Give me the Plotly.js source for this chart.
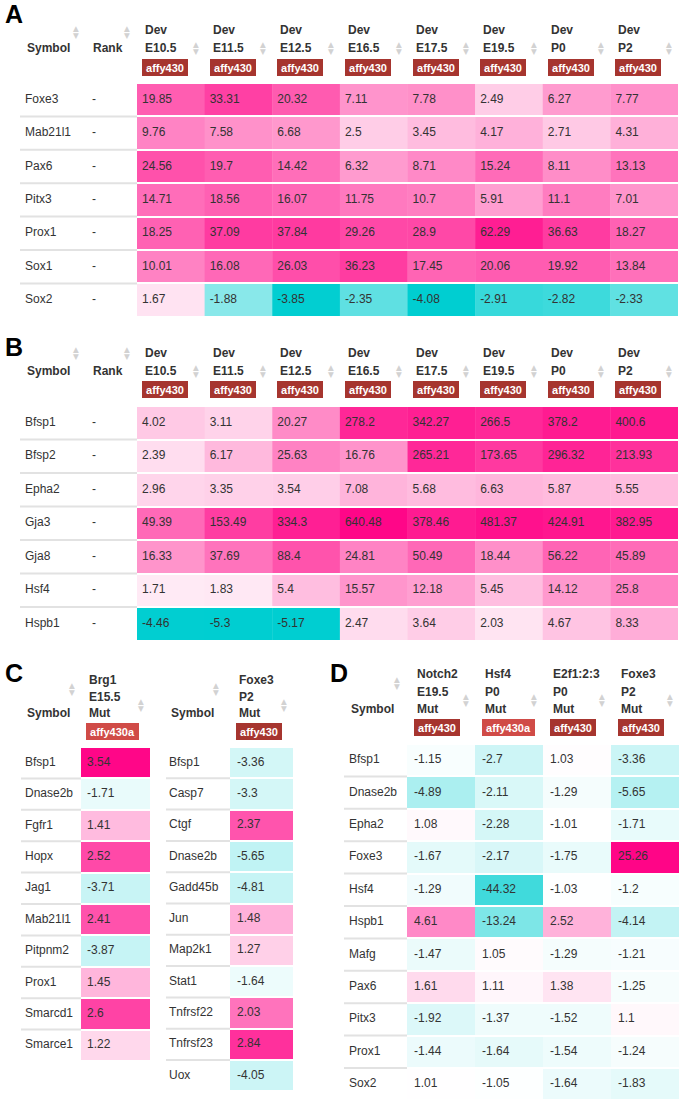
<!DOCTYPE html>
<html><head><meta charset="utf-8">
<script src="https://cdn.plot.ly/plotly-3.0.1.min.js"></script>
<style>html,body{margin:0;padding:0;background:#fff}#chart{width:679px;height:1101px}</style>
</head><body><div id="chart"></div>
<script>
// ---------------- data ----------------
const devStages = ['E10.5','E11.5','E12.5','E16.5','E17.5','E19.5','P0','P2'];
const devGroup = 'Dev';
const devPlatform = 'affy430';

// Panel A
const aGenes = ['Foxe3','Mab21l1','Pax6','Pitx3','Prox1','Sox1','Sox2'];
const aFoxe3   = [19.85, 33.31, 20.32, 7.11, 7.78, 2.49, 6.27, 7.77];
const aMab21l1 = [9.76, 7.58, 6.68, 2.5, 3.45, 4.17, 2.71, 4.31];
const aPax6    = [24.56, 19.7, 14.42, 6.32, 8.71, 15.24, 8.11, 13.13];
const aPitx3   = [14.71, 18.56, 16.07, 11.75, 10.7, 5.91, 11.1, 7.01];
const aProx1   = [18.25, 37.09, 37.84, 29.26, 28.9, 62.29, 36.63, 18.27];
const aSox1    = [10.01, 16.08, 26.03, 36.23, 17.45, 20.06, 19.92, 13.84];
const aSox2    = [1.67, -1.88, -3.85, -2.35, -4.08, -2.91, -2.82, -2.33];

// Panel B
const bGenes = ['Bfsp1','Bfsp2','Epha2','Gja3','Gja8','Hsf4','Hspb1'];
const bBfsp1 = [4.02, 3.11, 20.27, 278.2, 342.27, 266.5, 378.2, 400.6];
const bBfsp2 = [2.39, 6.17, 25.63, 16.76, 265.21, 173.65, 296.32, 213.93];
const bEpha2 = [2.96, 3.35, 3.54, 7.08, 5.68, 6.63, 5.87, 5.55];
const bGja3  = [49.39, 153.49, 334.3, 640.48, 378.46, 481.37, 424.91, 382.95];
const bGja8  = [16.33, 37.69, 88.4, 24.81, 50.49, 18.44, 56.22, 45.89];
const bHsf4  = [1.71, 1.83, 5.4, 15.57, 12.18, 5.45, 14.12, 25.8];
const bHspb1 = [-4.46, -5.3, -5.17, 2.47, 3.64, 2.03, 4.67, 8.33];

// Panel C
const c1Genes  = ['Bfsp1','Dnase2b','Fgfr1','Hopx','Jag1','Mab21l1','Pitpnm2','Prox1','Smarcd1','Smarce1'];
const c1Brg1   = [3.54, -1.71, 1.41, 2.52, -3.71, 2.41, -3.87, 1.45, 2.6, 1.22];
const c1Header = ['Brg1','E15.5','Mut'];
const c1Platform = 'affy430a';
const c2Genes  = ['Bfsp1','Casp7','Ctgf','Dnase2b','Gadd45b','Jun','Map2k1','Stat1','Tnfrsf22','Tnfrsf23','Uox'];
const c2Foxe3  = [-3.36, -3.3, 2.37, -5.65, -4.81, 1.48, 1.27, -1.64, 2.03, 2.84, -4.05];
const c2Header = ['Foxe3','P2','Mut'];
const c2Platform = 'affy430';

// Panel D
const dGenes  = ['Bfsp1','Dnase2b','Epha2','Foxe3','Hsf4','Hspb1','Mafg','Pax6','Pitx3','Prox1','Sox2'];
const dNotch2 = [-1.15, -4.89, 1.08, -1.67, -1.29, 4.61, -1.47, 1.61, -1.92, -1.44, 1.01];
const dHsf4   = [-2.7, -2.11, -2.28, -2.17, -44.32, -13.24, 1.05, 1.11, -1.37, -1.64, -1.05];
const dE2f1   = [1.03, -1.29, -1.01, -1.75, -1.03, 2.52, -1.29, 1.38, -1.52, -1.54, -1.64];
const dFoxe3  = [-3.36, -5.65, -1.71, 25.26, -1.2, -4.14, -1.21, -1.25, 1.1, -1.24, -1.83];
const dHeaders = [['Notch2','E19.5','Mut'],['Hsf4','P0','Mut'],['E2f1:2:3','P0','Mut'],['Foxe3','P2','Mut']];
const dPlatforms = ['affy430','affy430a','affy430','affy430'];

// ---------------- styling ----------------
const W = 679, H = 1101;
const FONT = 'Liberation Sans, Arial, Helvetica, sans-serif';
const TXT = '#333333';
const CYAN = '#00CED1', PINK = 'rgb(255,5,135)';
const BADGE = {'affy430':'#A6352F','affy430a':'#D04B47'};
const px = v => v / W, py = v => 1 - v / H;
const slog = v => Math.sign(v) * Math.log(Math.abs(v));
const scale = (lo, hi) => [[0, CYAN], [-lo / (hi - lo), '#ffffff'], [1, PINK]];

const data = [], shapes = [], annotations = [];
const layout = {
  width: W, height: H, margin: {l:0, r:0, t:0, b:0},
  paper_bgcolor: '#ffffff', plot_bgcolor: 'rgba(0,0,0,0)',
  showlegend: false, hovermode: false,
  font: {family: FONT, size: 12, color: TXT},
  shapes, annotations
};
let xn = 0, yn = 0;
function addAxis(kind, domain, range) {
  const n = kind === 'x' ? ++xn : ++yn;
  const suf = n === 1 ? '' : String(n);
  layout[kind + 'axis' + suf] = {domain, range, visible: false, fixedrange: true,
    showgrid: false, zeroline: false};
  return kind + suf;
}
const xg = addAxis('x', [0, 1], [0, W]);   // page-wide helper axis in pixels

function sortIcon(xref, x, xshift, yc) {
  [['▲', -3.3], ['▼', 3.3]].forEach(([t, d]) => annotations.push({
    xref, x, xshift, xanchor: 'center', yref: 'paper', y: py(yc + d), yanchor: 'middle',
    text: t, showarrow: false, font: {size: 7.5, color: '#d2d2d2', family: 'DejaVu Sans'}
  }));
}
function headText(xref, x, xshift, yc, text, bold) {
  annotations.push({xref, x, xshift, xanchor: 'left', yref: 'paper', y: py(yc), yanchor: 'middle',
    text: bold ? '<b>' + text + '</b>' : text, showarrow: false,
    font: {size: 12, color: TXT, family: FONT}});
}

function table(s) {
  const n = s.genes.length, m = s.cols.length;
  const yBot = s.top + n * s.rowH;
  const colPx = (s.cellX[1] - s.cellX[0]) / m;
  const yId = addAxis('y', [Math.max(0, py(yBot)), py(s.top)], [n - 0.5, -0.5]);
  const xc = addAxis('x', [px(s.cellX[0]), px(s.cellX[1])], [-0.5, m - 0.5]);
  s.cols.forEach((c, j) => {
    data.push({type: 'heatmap', xaxis: xc, yaxis: yId,
      z: c.values.map(v => [slog(v)]), x0: j, dx: 1, y0: 0, dy: 1,
      zmin: c.range[0], zmax: c.range[1], colorscale: scale(c.range[0], c.range[1]),
      showscale: false, ygap: 2, hoverinfo: 'skip'});
    data.push({type: 'scatter', mode: 'text', xaxis: xc, yaxis: yId,
      x: c.values.map(() => j - 0.5 + s.valShift / colPx), y: c.values.map((_, i) => i),
      text: c.values.map(v => String(v)), textposition: 'middle right',
      textfont: {size: 12, color: TXT, family: FONT}, cliponaxis: false, hoverinfo: 'skip'});
    c.lines.forEach((t, k) => headText(xc, j - 0.5, s.txtShift, s.headY[k], t, true));
    annotations.push({xref: xc, x: j - 0.5, xshift: s.txtShift - 1, xanchor: 'left',
      yref: 'paper', y: py(s.badgeY), yanchor: 'middle',
      text: '<b>' + c.badge + '</b>', showarrow: false, width: c.badge.length > 7 ? 49 : 42, height: 13,
      bgcolor: BADGE[c.badge], bordercolor: BADGE[c.badge], borderwidth: 1, borderpad: 1,
      font: {size: 11, color: '#ffffff', family: FONT}});
    sortIcon(xc, j + 0.5, -9, s.colIconY);
  });
  // row labels
  data.push({type: 'scatter', mode: 'text', xaxis: xg, yaxis: yId,
    x: s.genes.map(() => s.labelX), y: s.genes.map((_, i) => i), text: s.genes,
    textposition: 'middle right', textfont: {size: 12, color: TXT, family: FONT},
    cliponaxis: false, hoverinfo: 'skip'});
  headText(xg, s.labelX, 0, s.symY, 'Symbol', true);
  sortIcon(xg, s.symIcon[0], 0, s.symIcon[1]);
  if (s.rankX) {
    data.push({type: 'scatter', mode: 'text', xaxis: xg, yaxis: yId,
      x: s.genes.map(() => s.rankX + 1), y: s.genes.map((_, i) => i), text: s.genes.map(() => '-'),
      textposition: 'middle right', textfont: {size: 12, color: TXT, family: FONT},
      cliponaxis: false, hoverinfo: 'skip'});
    headText(xg, s.rankX, 0, s.symY, 'Rank', true);
    sortIcon(xg, s.rankIcon[0], 0, s.rankIcon[1]);
  }
  for (let i = 0; i < n - 1; i++) {
    shapes.push({type: 'line', xref: xg, yref: yId, x0: s.sepX0, x1: s.cellX[0],
      y0: i + 0.5, y1: i + 0.5, line: {color: '#e2e2e2', width: 2}});
  }
}
function letter(t, x, y) {
  annotations.push({xref: xg, x, xanchor: 'left', yref: 'paper', y: py(y), yanchor: 'middle',
    text: '<b>' + t + '</b>', showarrow: false, font: {size: 25, color: '#000', family: FONT}});
}

// ---------------- build panels ----------------
const transpose = rows => rows[0].map((_, j) => rows.map(r => r[j]));
const aCols = transpose([aFoxe3, aMab21l1, aPax6, aPitx3, aProx1, aSox1, aSox2]);
const bCols = transpose([bBfsp1, bBfsp2, bEpha2, bGja3, bGja8, bHsf4, bHspb1]);

table({genes: aGenes, top: 83, rowH: 33.4, cellX: [137, 678], labelX: 25, rankX: 91,
  sepX0: 20, txtShift: 6, valShift: 5, headY: [30, 48], badgeY: 67, symY: 48, colIconY: 48,
  symIcon: [76, 32], rankIcon: [127, 32],
  cols: aCols.map((v, j) => ({values: v, lines: [devGroup, devStages[j]], badge: devPlatform, range: [-1.36, 4.6]}))});
table({genes: bGenes, top: 406, rowH: 33.5, cellX: [137, 678], labelX: 25, rankX: 91,
  sepX0: 20, txtShift: 6, valShift: 5, headY: [353, 371], badgeY: 389, symY: 371, colIconY: 371,
  symIcon: [76, 353], rankIcon: [127, 353],
  cols: bCols.map((v, j) => ({values: v, lines: [devGroup, devStages[j]], badge: devPlatform, range: [-1.5, 6.5]}))});
table({genes: c1Genes, top: 747, rowH: 31.4, cellX: [81, 150], labelX: 25,
  sepX0: 21, txtShift: 6, valShift: 6, headY: [680, 697, 713], badgeY: 731, symY: 713, colIconY: 705,
  symIcon: [72, 689],
  cols: [{values: c1Brg1, lines: c1Header, badge: c1Platform, range: [-6.1, 1.27]}]});
table({genes: c2Genes, top: 747, rowH: 31.3, cellX: [230, 293], labelX: 169,
  sepX0: 166, txtShift: 7, valShift: 7, headY: [680, 697, 713], badgeY: 731, symY: 713, colIconY: 705,
  symIcon: [216, 689],
  cols: [{values: c2Foxe3, lines: c2Header, badge: c2Platform, range: [-7, 1.26]}]});
const dRanges = [[-4.8, 3.25], [-5.05, 3], [-6.6, 3], [-6, 3.23]];
table({genes: dGenes, top: 744, rowH: 32.4, cellX: [407, 679], labelX: 349,
  sepX0: 344, txtShift: 8, valShift: 7, headY: [674, 692, 709], badgeY: 727, symY: 709, colIconY: 700,
  symIcon: [397, 683],
  cols: [dNotch2, dHsf4, dE2f1, dFoxe3].map((v, j) => ({values: v, lines: dHeaders[j], badge: dPlatforms[j], range: dRanges[j]}))});

letter('A', 3, 14); letter('B', 3, 347); letter('C', 3, 673); letter('D', 328, 673);

Plotly.newPlot('chart', data, layout, {staticPlot: true, displayModeBar: false});
</script></body></html>
